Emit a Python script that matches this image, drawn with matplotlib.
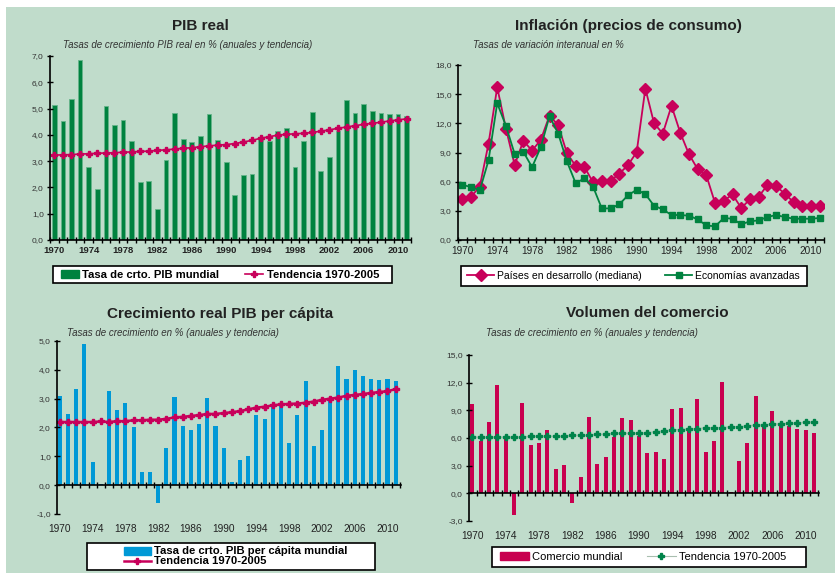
import numpy as np
import matplotlib.pyplot as plt
from matplotlib.patches import Rectangle, Patch
from matplotlib.ticker import FixedLocator, FuncFormatter

plt.rcParams['font.family'] = ['Liberation Sans', 'DejaVu Sans']

years = np.arange(1970, 2012)
label_years = np.arange(1970, 2012, 4)

# PIB real (tasa anual y tendencia)
pib = [5.14, 4.54, 5.36, 6.86, 2.77, 1.93, 5.08, 4.39, 4.58, 3.75,
       2.19, 2.23, 1.17, 3.06, 4.84, 3.86, 3.72, 3.96, 4.79, 3.81,
       2.96, 1.73, 2.47, 2.52, 3.90, 3.76, 4.14, 4.26, 2.79, 3.75,
       4.88, 2.62, 3.15, 4.14, 5.31, 4.84, 5.17, 4.92, 4.84, 4.79,
       4.80, 4.72]
pib_trend = [3.23, 3.24, 3.25, 3.27, 3.28, 3.30, 3.31, 3.32, 3.34, 3.35,
             3.37, 3.38, 3.41, 3.43, 3.46, 3.49, 3.51, 3.55, 3.58, 3.61,
             3.63, 3.67, 3.73, 3.79, 3.87, 3.93, 3.99, 4.02, 4.04, 4.06,
             4.09, 4.14, 4.19, 4.25, 4.30, 4.35, 4.40, 4.44, 4.48, 4.53,
             4.57, 4.61]

# Inflacion
infl_dev = [4.24, 4.45, 5.50, 9.90, 15.70, 11.46, 7.73, 10.20, 9.20, 10.30,
            12.80, 11.80, 8.93, 7.63, 7.53, 5.92, 6.09, 6.09, 6.81, 7.70,
            9.03, 15.57, 12.00, 10.95, 13.80, 11.05, 8.83, 7.29, 6.64, 3.80,
            4.04, 4.69, 3.29, 4.18, 4.45, 5.65, 5.54, 4.76, 3.90, 3.52,
            3.52, 3.52]
infl_adv = [5.68, 5.44, 5.10, 8.18, 14.07, 11.74, 8.86, 9.07, 7.49, 9.55,
            12.73, 10.95, 8.08, 5.85, 6.33, 5.48, 3.25, 3.25, 3.66, 4.59,
            5.17, 4.72, 3.52, 3.15, 2.57, 2.57, 2.50, 2.12, 1.50, 1.40,
            2.26, 2.19, 1.61, 1.92, 2.02, 2.36, 2.57, 2.36, 2.19, 2.19,
            2.19, 2.26]

# PIB per capita
pc = [3.09, 2.47, 3.33, 4.88, 0.81, 0.05, 3.26, 2.60, 2.85, 2.02,
      0.46, 0.46, -0.63, 1.29, 3.05, 2.05, 1.91, 2.12, 3.02, 2.05,
      1.29, 0.12, 0.88, 1.01, 2.43, 2.29, 2.74, 2.85, 1.46, 2.43,
      3.60, 1.36, 1.91, 2.97, 4.12, 3.67, 3.99, 3.78, 3.67, 3.64,
      3.67, 3.60]
pc_trend = [2.19, 2.19, 2.19, 2.19, 2.19, 2.21, 2.19, 2.22, 2.22, 2.25,
            2.25, 2.27, 2.27, 2.30, 2.35, 2.37, 2.40, 2.43, 2.47, 2.47,
            2.50, 2.53, 2.57, 2.63, 2.69, 2.72, 2.77, 2.80, 2.82, 2.83,
            2.86, 2.90, 2.96, 3.00, 3.04, 3.10, 3.13, 3.16, 3.20, 3.23,
            3.26, 3.33]

# Volumen del comercio
trade = [9.69, 5.67, 7.73, 11.75, 6.20, -2.35, 9.79, 5.24, 5.46, 6.87,
         2.64, 3.07, -1.01, 1.77, 8.28, 3.18, 3.94, 6.11, 8.17, 7.95,
         6.22, 4.37, 4.48, 3.72, 9.14, 9.25, 7.05, 10.23, 4.48, 5.67,
         12.07, 0.18, 3.50, 5.46, 10.55, 7.41, 8.93, 7.40, 7.30, 6.97,
         6.87, 6.54]
trade_trend = [6.10, 6.10, 6.10, 6.10, 6.10, 6.10, 6.10, 6.18, 6.18, 6.21,
               6.18, 6.18, 6.29, 6.29, 6.29, 6.40, 6.40, 6.51, 6.51, 6.51,
               6.51, 6.58, 6.69, 6.80, 6.91, 6.91, 7.02, 7.02, 7.13, 7.13,
               7.13, 7.24, 7.24, 7.31, 7.42, 7.42, 7.53, 7.53, 7.60, 7.60,
               7.71, 7.73]

W, H = 838, 573
BG = '#c0dccb'
GREEN = '#00823f'
RED = '#c8005a'
BLUE = '#0099d6'
TXT = '#222222'


def box(l, t, r, b):
    return [l / W, 1 - b / H, (r - l) / W, (b - t) / H]


def fx(x):
    return x / W


def fy(y):
    return 1 - y / H


comma = FuncFormatter(lambda v, p: f'{v:.1f}'.replace('.', ','))


def style(ax, ymin, ymax, step):
    ax.set_facecolor('none')
    ax.set_xlim(1969.5, 2011.5)
    ax.set_ylim(ymin, ymax)
    ax.set_yticks(np.arange(ymin, ymax + 0.01, step))
    ax.yaxis.set_major_formatter(comma)
    for s in ('top', 'right'):
        ax.spines[s].set_visible(False)
    ax.spines['left'].set_linewidth(1.2)
    ax.spines['bottom'].set_linewidth(1.2)
    ax.tick_params(axis='y', direction='inout', length=5, width=1,
                   labelsize=6, labelcolor='#333333', pad=2)
    ax.xaxis.set_minor_locator(FixedLocator(np.arange(1969.5, 2012, 1)))
    ax.tick_params(axis='x', which='minor', direction='inout', length=5, width=1)
    ax.tick_params(axis='x', which='major', length=0)


def legend(handles, labels, frame, cx, cy, ncol, **kw):
    # white framed box drawn in pixel coords, legend content centred on it
    l, t, r, b = frame
    fig.patches.append(Rectangle((fx(l), fy(b)), (r - l) / W, (b - t) / H,
                                 transform=fig.transFigure, facecolor='white',
                                 edgecolor='black', linewidth=1.2, zorder=1))
    leg = fig.legend(handles, labels, loc='center', bbox_to_anchor=(fx(cx), fy(cy)),
                     bbox_transform=fig.transFigure, ncol=ncol, frameon=False,
                     borderpad=0, handletextpad=0.3, **kw)
    leg.set_zorder(6)
    return leg


fig = plt.figure(figsize=(W / 100, H / 100), dpi=100)
fig.patch.set_facecolor('white')
fig.patches.append(Rectangle((6 / W, 0), (835 - 6) / W, (H - 7) / H,
                             transform=fig.transFigure, facecolor=BG,
                             edgecolor='none', zorder=-10))

# ---- PIB real
ax1 = fig.add_axes(box(50, 56, 411, 240))
style(ax1, 0, 7, 1)
ax1.bar(years, pib, width=0.55, color=GREEN, edgecolor='#66b58a', linewidth=0.6)
tr1, = ax1.plot(years, pib_trend, color=RED, lw=1.2, marker='P', ms=4.5)
ax1.set_xticks(label_years)
ax1.set_xticklabels([str(y) for y in label_years], fontsize=6.8, fontweight='bold',
                    color=TXT)
ax1.tick_params(axis='x', which='major', pad=4)
legend([Patch(color=GREEN), tr1],
       ['Tasa de crto. PIB mundial', 'Tendencia 1970-2005'],
       (53, 266, 392, 283), 220, 274.5, 2,
       prop=dict(weight='bold', size=8.1), handlelength=1.6, columnspacing=2.3)
fig.text(fx(200), fy(26), 'PIB real', ha='center', va='center', fontsize=11,
         fontweight='bold', color=TXT)
fig.text(fx(63), fy(45), 'Tasas de crecimiento PIB real en % (anuales y tendencia)',
         ha='left', va='center', fontsize=7, style='italic', color='#333333')

# ---- Inflacion
ax2 = fig.add_axes(box(458, 65, 824, 240))
style(ax2, 0, 18, 3)
l_dev, = ax2.plot(years, infl_dev, color=RED, lw=1.3, marker='D', ms=6.3)
l_adv, = ax2.plot(years, infl_adv, color=GREEN, lw=1.3, marker='s', ms=4.4)
ax2.set_xticks(label_years)
ax2.set_xticklabels([str(y) for y in label_years], fontsize=7.2, color=TXT)
ax2.tick_params(axis='x', which='major', pad=4)
legend([l_dev, l_adv],
       ['Países en desarrollo (mediana)', 'Economías avanzadas'],
       (461, 266, 807, 286), 633.5, 276, 2,
       prop=dict(size=7.5), handlelength=2.6, columnspacing=2.2)
fig.text(fx(628), fy(26), 'Inflación (precios de consumo)', ha='center', va='center',
         fontsize=11, fontweight='bold', color=TXT)
fig.text(fx(473), fy(45), 'Tasas de variación interanual en %', ha='left',
         va='center', fontsize=7, style='italic', color='#333333')

# ---- PIB per capita
ax3 = fig.add_axes(box(57, 341, 401, 514))
style(ax3, -1, 5, 1)
ax3.set_xlim(1969.65, 2011.65)
ax3.spines['bottom'].set_position(('data', 0))
ax3.set_xticks([])
ax3.bar(years, pc, width=0.5, color=BLUE)
tr3, = ax3.plot(years, pc_trend, color=RED, lw=1.8, marker='P', ms=5)
sec3 = ax3.secondary_xaxis('bottom')
sec3.set_xticks(label_years)
sec3.set_xticklabels([str(y) for y in label_years], fontsize=7.3, color=TXT)
sec3.tick_params(length=0, pad=7)
sec3.spines['bottom'].set_visible(False)
legend([Patch(color=BLUE), tr3],
       ['Tasa de crto. PIB per cápita mundial', 'Tendencia 1970-2005'],
       (87, 543, 375, 570), 235.5, 556.5, 1,
       prop=dict(weight='bold', size=8.1), handlelength=2.4, labelspacing=0.0)
fig.text(fx(220), fy(314), 'Crecimiento real PIB per cápita', ha='center',
         va='center', fontsize=11, fontweight='bold', color=TXT)
fig.text(fx(67), fy(333), 'Tasas de crecimiento en % (anuales y tendencia)',
         ha='left', va='center', fontsize=7, style='italic', color='#333333')

# ---- Volumen del comercio
ax4 = fig.add_axes(box(469, 355, 819, 521))
style(ax4, -3, 15, 3)
ax4.set_xlim(1969.6, 2011.6)
ax4.spines['bottom'].set_position(('data', 0))
ax4.set_xticks([])
ax4.bar(years, trade, width=0.48, color='#c8004f')
tr4, = ax4.plot(years, trade_trend, color='#a9bfb0', lw=0.8, marker='P', ms=5,
                mfc='#00834a', mec='#00834a')
sec4 = ax4.secondary_xaxis('bottom')
sec4.set_xticks(label_years)
sec4.set_xticklabels([str(y) for y in label_years], fontsize=7.3, color=TXT)
sec4.tick_params(length=0, pad=7)
sec4.spines['bottom'].set_visible(False)
legend([Patch(color='#c8004f'), tr4],
       ['Comercio mundial', 'Tendencia 1970-2005'],
       (492, 547, 806, 567), 643, 557, 2,
       prop=dict(size=8), handlelength=2.6, columnspacing=2.2)
fig.text(fx(647), fy(313), 'Volumen del comercio', ha='center', va='center',
         fontsize=11, fontweight='bold', color=TXT)
fig.text(fx(486), fy(333), 'Tasas de crecimiento en % (anuales y tendencia)',
         ha='left', va='center', fontsize=7, style='italic', color='#333333')

fig.savefig('out.png', dpi=100, facecolor=fig.get_facecolor())
